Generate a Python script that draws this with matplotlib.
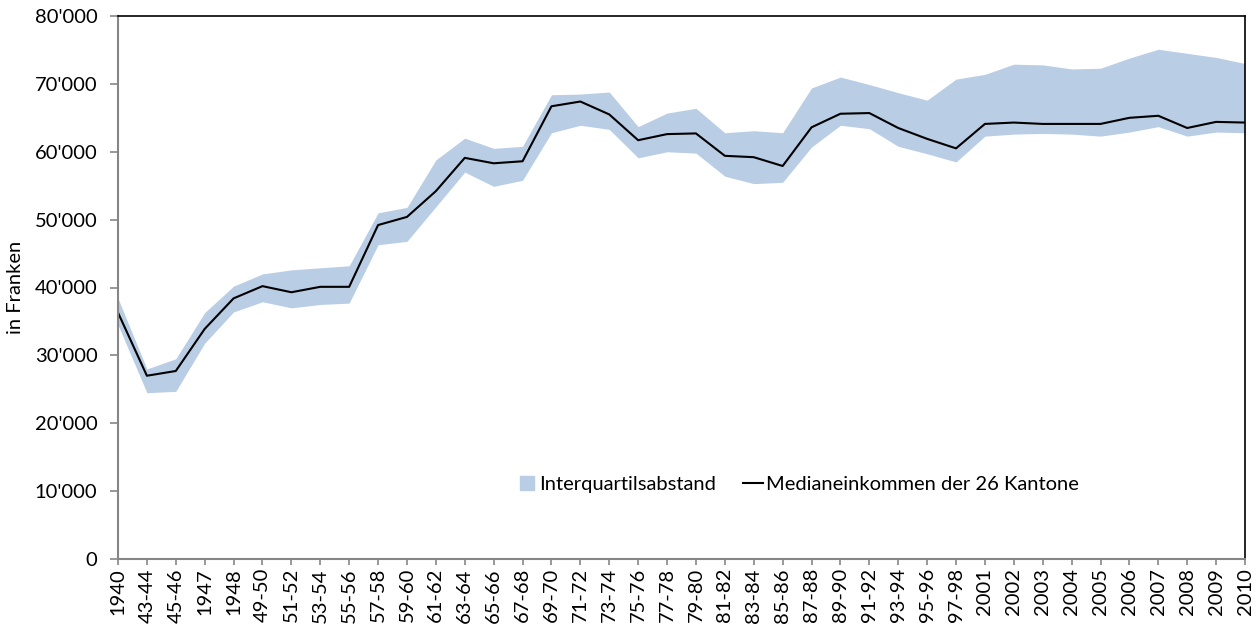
import matplotlib
matplotlib.use("Agg")
import matplotlib.pyplot as plt
from matplotlib.lines import Line2D
from matplotlib.ticker import FuncFormatter

# categories (periods)
periods = ["1940", "43-44", "45-46", "1947", "1948", "49-50", "51-52", "53-54",
           "55-56", "57-58", "59-60", "61-62", "63-64", "65-66", "67-68", "69-70",
           "71-72", "73-74", "75-76", "77-78", "79-80", "81-82", "83-84", "85-86",
           "87-88", "89-90", "91-92", "93-94", "95-96", "97-98", "2001", "2002",
           "2003", "2004", "2005", "2006", "2007", "2008", "2009", "2010"]

# median income of the 26 cantons
median = [36300, 27000, 27700, 33900, 38400, 40200, 39300, 40100,
          40100, 49200, 50400, 54200, 59100, 58300, 58600, 66700,
          67400, 65500, 61700, 62600, 62700, 59400, 59200, 57900,
          63600, 65600, 65700, 63500, 61900, 60500, 64100, 64300,
          64100, 64100, 64100, 65000, 65300, 63500, 64400, 64300]

# first and third quartile
q1 = [34500, 24500, 24700, 31800, 36400, 37900, 37000, 37500,
      37700, 46300, 46800, 51900, 57000, 54900, 55800, 62800,
      63900, 63300, 59100, 60000, 59800, 56400, 55300, 55500,
      60700, 63900, 63400, 60800, 59700, 58500, 62300, 62600,
      62700, 62600, 62300, 62900, 63700, 62300, 62900, 62800]
q3 = [38400, 28000, 29500, 36300, 40200, 42000, 42600, 42900,
      43200, 51000, 51800, 58800, 62000, 60500, 60800, 68400,
      68500, 68800, 63700, 65700, 66400, 62800, 63100, 62800,
      69400, 71000, 69900, 68700, 67600, 70700, 71400, 72900,
      72800, 72200, 72300, 73800, 75100, 74500, 73900, 73000]

band_color = "#B9CDE5"
gray = "#868686"
fs = 14.5

plt.rcParams['font.family'] = ['Lato', 'DejaVu Sans']

fig = plt.figure(figsize=(12.59, 6.24), dpi=100)
ax = fig.add_axes([118 / 1259, 1 - 559 / 624, (1245 - 118) / 1259, (559 - 16) / 624])

x = list(range(len(periods)))
ax.fill_between(x, q1, q3, color=band_color, linewidth=0)
ax.plot(x, median, color="black", linewidth=1.5)

ax.set_xlim(0, len(periods) - 1)
ax.set_ylim(0, 80000)
ax.set_yticks(range(0, 80001, 10000))
ax.yaxis.set_major_formatter(FuncFormatter(lambda v, p: "0" if v == 0 else f"{int(v):,}".replace(",", "'")))
ax.set_xticks(x)
ax.set_xticklabels(periods, rotation=90)

for s in ["left", "bottom"]:
    ax.spines[s].set_color(gray)
    ax.spines[s].set_linewidth(1.5)
for s in ["top", "right"]:
    ax.spines[s].set_color("black")
    ax.spines[s].set_linewidth(1.2)
ax.tick_params(axis="both", colors=gray, labelcolor="black", labelsize=fs, width=1.2)
ax.tick_params(axis="y", length=5.8, pad=9)
ax.tick_params(axis="x", length=4.5, pad=2)

ax.set_ylabel("in Franken", fontsize=fs, va="center")
ax.yaxis.set_label_coords(-0.091, 0.5)

handles = [Line2D([], [], color=band_color, marker="s", markersize=9.4, linestyle="none"),
           Line2D([], [], color="black", linewidth=1.5)]
labels = ["Interquartilsabstand", "Medianeinkommen der 26 Kantone"]
ax.legend(handles, labels, loc="center", bbox_to_anchor=(0.603, 0.137), ncol=2, frameon=False,
          fontsize=fs, handlelength=1.0, columnspacing=1.3, handletextpad=0.15)

fig.savefig("out.png", dpi=100)
